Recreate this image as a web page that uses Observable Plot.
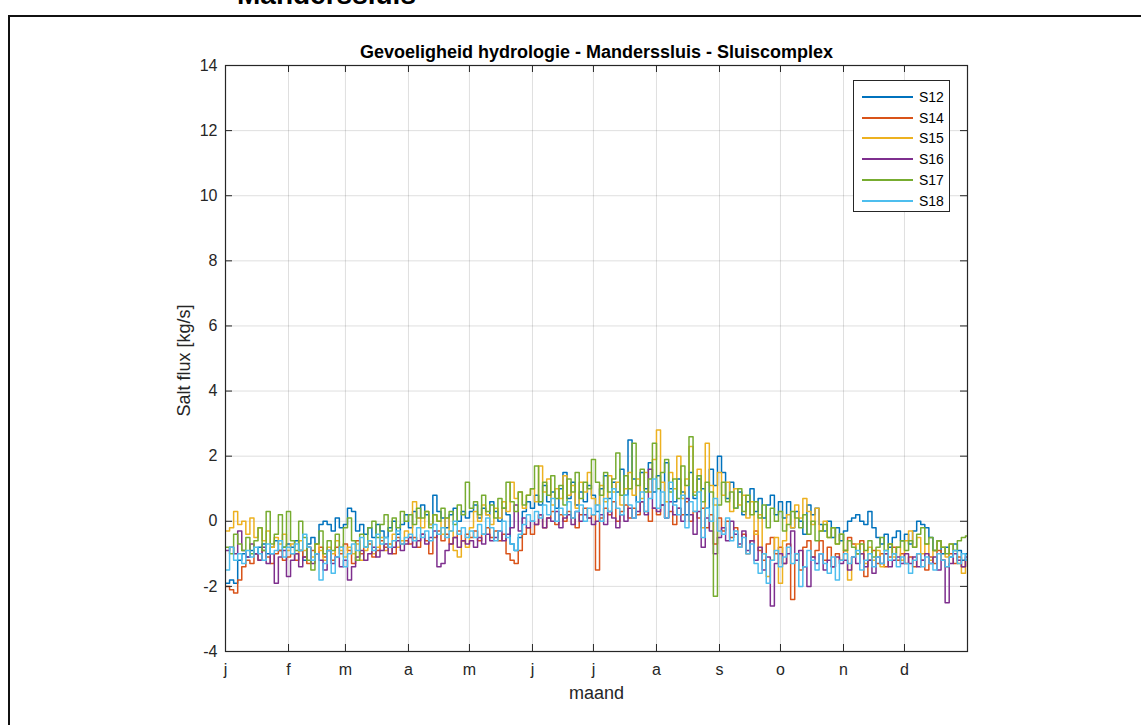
<!DOCTYPE html>
<html>
<head>
<meta charset="utf-8">
<script src="https://cdn.jsdelivr.net/npm/d3@7"></script>
<script src="https://cdn.jsdelivr.net/npm/@observablehq/plot@0.6"></script>
<style>
  html, body { margin: 0; padding: 0; background: #fff; }
  #page { position: relative; width: 1141px; height: 725px; overflow: hidden; background: #fff;
          font-family: "Liberation Sans", Arial, sans-serif; }
  #page svg { position: absolute; left: 0; top: 0; }
  #figframe { position: absolute; left: 8px; top: 15px; width: 1300px; height: 900px;
              border: 2px solid #111; box-sizing: border-box; pointer-events: none; }
  #heading { position: absolute; left: 237px; top: -21px; font-size: 28px; font-weight: bold;
             line-height: 32px; color: #000; white-space: nowrap; }
  #legend { position: absolute; left: 853px; top: 80px; width: 97px; height: 132px;
            border: 1px solid #262626; background: #fff; box-sizing: border-box; }
  #legend .row { position: absolute; left: 0; height: 20px; width: 100%; }
  #legend .swatch { position: absolute; left: 8px; top: 9px; width: 51px; height: 0;
                    border-top: 2px solid; }
  #legend .lab { position: absolute; left: 65px; top: 1px; font-size: 14px; line-height: 18px; color: #000; }
</style>
</head>
<body>
<div id="page">
  <div id="heading">Manderssluis</div>
  <div id="figframe"></div>
</div>
<script>
// Series names and MATLAB default line colours
const seriesNames = ["S12", "S14", "S15", "S16", "S17", "S18"];
const seriesColors = ["#0072BD", "#D95319", "#EDB120", "#7E2F8E", "#77AC30", "#4DBEEE"];

// Month starts (day of year) and their axis letters
const monthStarts = [0, 31, 59, 90, 120, 151, 181, 212, 243, 273, 304, 334];
const monthLabels = ["j", "f", "m", "a", "m", "j", "j", "a", "s", "o", "n", "d"];
const yTicks = [-4, -2, 0, 2, 4, 6, 8, 10, 12, 14];

// Salt flux [kg/s], one value every 2 days (Jan ... Dec)
const s12 = [
  -1.9,-1.8,-1.9,-1.2,-1.0,-1.1,-0.9,-1.0,-0.8,-0.7,-1.0,-0.8,-0.6,-0.9,-0.8,-0.7,
  -0.8,-0.6,-0.9,-1.2,-0.7,-0.5,-0.7,-0.1,0.0,-0.1,-0.3,0.1,-0.2,-0.1,
  0.4,0.3,-0.3,-0.1,-0.4,-0.2,-0.5,-0.1,-0.3,-0.5,-0.2,0.0,-0.4,-0.1,0.2,
  -0.2,0.3,0.1,0.5,0.2,-0.1,0.8,0.3,0.1,-0.2,0.2,0.4,0.0,0.3,0.1,
  0.3,0.5,0.1,0.4,0.2,0.6,0.3,0.0,0.4,0.2,-0.7,-0.9,-0.5,0.3,0.6,0.4,
  0.8,0.5,1.1,0.6,0.9,0.4,1.0,1.5,0.7,1.2,0.5,0.9,0.6,1.1,0.8,
  0.3,1.0,1.4,0.7,1.2,0.9,1.6,0.8,2.5,1.3,0.6,1.5,1.0,1.8,0.9,
  1.4,0.5,1.8,1.0,0.6,1.3,0.9,0.2,1.5,0.7,1.3,1.0,0.4,1.6,1.1,2.0,
  1.5,0.7,1.2,0.4,0.9,0.2,0.6,1.0,0.3,0.7,0.1,0.5,0.8,0.2,0.6,
  0.1,0.6,-0.2,0.3,0.0,-0.4,0.5,0.2,0.4,-0.1,-0.3,0.0,-0.5,-0.2,-0.6,
  -0.3,0.0,0.1,0.2,0.0,-0.1,0.3,-0.2,-0.5,-0.7,-0.4,-0.8,-0.5,-0.3,-0.6,
  -0.4,-0.7,-0.3,0.0,-0.1,-0.2,-0.5,-0.9,-0.6,-1.0,-0.8,-1.1,-0.7,-0.9,-1.2,-1.0
];
const s14 = [
  -2.0,-2.1,-2.2,-1.8,-1.4,-1.2,-1.3,-1.0,-1.2,-0.9,-1.1,-1.3,-1.0,-0.9,-1.2,-1.1,
  -1.0,-1.2,-0.9,-1.1,-1.3,-0.9,-1.0,-0.8,-1.1,-0.9,-1.2,-0.8,-1.0,-0.7,
  -0.9,-1.3,-0.6,-1.0,-0.8,-0.7,-1.1,-0.9,-0.6,-0.8,-0.7,-1.0,-0.5,-0.7,-0.6,
  -0.7,-0.5,-0.8,-0.4,-0.6,-1.0,-0.5,-0.3,-0.6,-0.4,-0.7,-0.5,-0.3,-0.6,-0.4,
  -0.5,-0.3,-0.6,-0.4,-0.2,-0.5,-0.3,-0.6,-0.4,-1.0,-1.2,-1.3,-0.9,-0.4,-0.2,-0.4,
  -0.1,0.2,-0.2,0.1,0.3,-0.1,0.2,0.0,0.3,0.1,-0.2,0.2,0.4,0.1,0.2,
  -1.5,0.1,0.4,0.2,0.6,0.0,0.3,0.5,0.1,0.4,0.2,0.6,0.3,0.0,0.4,
  0.2,0.5,0.1,0.3,-0.1,0.4,0.2,0.6,0.0,0.3,0.1,0.4,-0.2,0.2,-0.7,0.1,
  -0.3,0.0,-0.5,-0.2,-0.8,-0.4,-1.0,-0.6,-0.3,-0.9,-1.2,-0.7,-0.5,-1.0,-0.8,
  -1.3,-0.7,-2.4,-1.0,-1.5,-0.8,-0.6,-1.1,-0.9,-0.6,-1.2,-0.8,-1.4,-1.0,-1.2,
  -0.9,-0.5,-0.7,-1.0,-0.6,-1.7,-1.2,-0.9,-1.3,-1.0,-1.4,-1.1,-0.8,-1.2,-1.0,
  -1.3,-1.1,-1.4,-1.0,-1.2,-1.5,-1.1,-1.3,-0.9,-1.2,-1.4,-1.0,-1.3,-1.1,-1.4,-1.2
];
const s15 = [
  -0.3,-0.2,0.3,-0.1,0.0,-0.4,0.1,-0.5,-0.2,-0.6,-0.3,-0.8,-0.5,-0.7,-0.4,-0.9,
  -0.7,-1.0,-0.6,-0.9,-0.8,-1.1,-0.7,-0.9,-1.2,-0.8,-1.0,-0.6,-0.9,-1.1,
  -0.8,-1.0,-0.7,-1.2,-0.9,-0.6,-1.0,-0.8,-0.5,-0.9,-0.7,-0.4,-0.8,-0.6,-0.3,
  -0.5,0.6,0.1,-0.2,0.3,-0.1,0.2,0.0,-0.4,0.1,-0.3,-0.9,-1.1,-0.6,-0.8,
  -0.2,0.3,0.0,0.5,0.2,-0.1,0.4,0.1,0.6,0.3,1.2,0.7,0.9,0.4,0.8,1.0,
  0.6,1.7,0.9,1.3,0.5,1.0,0.7,1.4,0.8,1.1,0.4,1.2,0.9,1.5,0.7,
  0.5,1.1,0.6,1.4,0.9,1.2,0.5,1.0,1.5,0.8,1.3,0.7,1.5,0.9,1.9,
  2.8,1.2,0.6,1.5,1.0,2.0,0.7,1.3,2.3,0.9,1.6,-0.2,2.4,1.1,0.5,1.5,
  0.8,1.2,0.3,1.0,0.5,0.8,0.1,0.6,-0.4,0.2,-1.0,-1.7,-1.2,-0.5,-1.9,
  -0.6,0.2,-0.2,0.5,0.1,0.7,0.3,-0.1,0.4,-0.3,0.0,-0.5,-0.2,-0.7,-0.4,
  -0.9,-1.8,-1.1,-0.7,-1.0,-1.3,-0.8,-1.2,-0.9,-1.4,-1.0,-0.7,-1.1,-0.8,-1.2,
  -0.6,-0.3,-0.8,-0.5,-1.0,-0.7,-1.2,-0.9,-0.6,-0.8,-1.1,-0.7,-0.9,-1.3,-1.6,-1.2
];
const s16 = [
  -0.9,-0.8,-1.0,-0.3,-0.9,-1.1,-0.7,-1.0,-1.2,-0.8,-1.3,-1.0,-1.9,-1.1,-0.9,-1.7,
  -1.2,-1.0,-1.4,-1.1,-0.8,-1.3,-1.0,-1.2,-1.5,-0.9,-1.3,-1.1,-1.4,-1.2,
  -1.8,-1.4,-1.1,-0.9,-1.2,-1.0,-0.8,-1.1,-0.9,-0.7,-1.0,-0.8,-0.6,-0.9,-0.7,
  -0.5,-0.8,-0.6,-0.4,-0.7,-0.5,-0.3,-1.4,-1.3,-0.9,-0.7,-0.5,-0.8,-0.6,-0.7,
  -0.6,-0.8,-0.5,-0.7,-0.4,-0.6,-0.5,-0.3,-0.6,-0.4,-0.2,0.5,-0.3,0.1,-0.2,0.0,
  -0.1,0.2,-0.2,0.1,0.0,0.3,-0.2,0.1,0.2,-0.1,0.3,0.0,0.2,0.1,-0.1,
  0.0,0.2,-0.1,0.3,0.1,-0.2,0.2,0.0,0.4,0.1,0.3,0.6,0.2,1.6,0.4,
  0.3,0.5,0.1,0.6,0.2,0.4,0.0,0.7,0.2,-0.4,0.3,-0.8,0.1,-0.3,-1.0,-0.5,
  -0.2,-0.6,0.0,-0.4,-0.7,-0.3,-0.9,-0.6,-1.2,-0.8,-1.5,-1.1,-2.6,-1.3,-1.0,
  -1.3,-1.0,-0.3,-1.2,-0.9,-1.4,-2.0,-1.1,-1.3,-1.0,-1.5,-1.2,-1.4,-1.1,-1.3,
  -1.2,-1.5,-1.1,-1.3,-1.0,-1.4,-1.2,-1.6,-1.1,-1.3,-1.0,-1.4,-1.2,-1.1,-1.3,
  -1.0,-1.3,-1.1,-1.4,-1.2,-1.0,-1.3,-1.1,-1.5,-1.2,-2.5,-1.3,-1.0,-1.2,-1.4,-1.1
];
const s17 = [
  -0.8,-1.0,-0.4,-0.7,-0.9,-0.5,-1.0,-0.6,-0.2,-0.9,0.3,-0.7,-0.4,0.2,-0.8,0.3,
  -0.6,-0.9,0.0,-0.5,-1.2,-1.5,-0.7,-0.3,-1.0,-0.6,-0.9,-0.4,-0.8,-0.2,
  0.1,-0.6,-1.2,-0.4,-0.8,-0.2,0.0,-0.5,-0.1,0.2,-0.3,0.1,-0.2,0.3,0.0,
  0.2,-0.1,0.4,0.1,0.3,-0.2,0.2,0.0,0.4,0.1,0.3,-0.1,0.5,0.2,1.2,
  0.4,0.6,0.2,0.8,0.3,0.5,0.1,0.7,0.4,1.2,0.6,0.3,0.9,0.5,0.8,1.0,
  1.7,0.6,1.2,0.8,1.4,0.7,1.1,0.5,1.3,0.9,1.5,0.7,1.2,1.0,1.9,
  1.2,0.8,1.5,0.9,1.3,2.1,0.8,1.4,1.0,2.4,1.1,1.6,0.9,1.3,2.4,
  1.0,1.5,1.9,0.9,1.3,0.7,1.7,1.1,2.6,0.8,1.4,0.6,1.2,0.9,-2.3,0.5,
  1.2,0.6,0.9,0.4,1.0,0.3,0.8,0.2,0.6,0.1,0.5,-0.2,0.4,0.0,0.3,
  -0.3,-0.1,0.3,0.1,-0.2,0.2,-0.4,0.0,-0.6,-0.3,-0.1,-0.5,-0.2,-0.7,-0.4,
  -0.9,-0.6,-0.8,-1.0,-0.7,-0.9,-0.6,-1.1,-0.8,-0.5,-0.9,-0.7,-1.0,-0.8,-0.6,
  -0.9,-0.6,-0.8,-0.4,-0.2,-0.7,-0.5,-0.9,-0.6,-0.8,-1.0,-0.7,-0.9,-0.6,-0.5,-0.45
];
const s18 = [
  -1.5,-0.8,-1.2,-1.0,-1.3,-0.9,-1.1,-0.8,-1.0,-1.2,-0.7,-1.0,-0.9,-0.6,-1.1,-0.8,
  -1.0,-0.7,-0.9,-0.4,-0.8,-1.2,-1.0,-1.8,-1.3,-0.9,-1.6,-1.1,-0.8,-1.4,
  -1.0,-0.7,-0.9,-0.5,-0.8,-0.6,-0.9,-0.4,-0.7,-0.5,-0.8,-0.6,-0.3,-0.7,-0.5,
  -0.4,-0.6,-0.2,-0.5,-0.3,-0.6,-0.1,-0.4,-0.2,-0.5,-0.3,0.0,-0.4,-0.2,-0.5,
  -0.3,-0.5,-0.1,-0.4,0.1,-0.2,-0.6,-0.3,0.0,-0.5,-0.7,-0.9,-0.4,-0.1,0.2,0.0,
  0.3,0.1,0.5,0.2,0.7,0.0,0.4,0.2,0.6,0.1,0.3,0.5,0.0,0.4,0.2,
  0.5,0.0,0.7,0.3,1.0,0.4,0.2,0.8,0.5,0.1,0.6,0.9,0.3,0.7,1.3,
  0.4,0.9,0.1,1.2,0.5,0.2,0.8,-0.2,0.6,0.3,0.9,-0.5,0.4,0.0,0.7,-0.3,
  -0.4,0.1,-0.6,-0.3,-0.8,-0.5,-1.0,-0.7,-1.3,-1.6,-1.0,-1.9,-1.2,-0.9,-1.4,
  -1.1,-0.8,-1.3,-1.0,-2.0,-1.4,-0.9,-1.2,-1.5,-1.0,-1.3,-1.6,-1.1,-1.8,-1.2,
  -1.0,-1.3,-1.1,-0.9,-1.5,-1.2,-1.0,-1.4,-1.1,-1.3,-0.9,-1.2,-1.0,-1.4,-1.1,
  -1.3,-1.6,-1.2,-1.0,-1.4,-1.1,-1.3,-1.5,-1.0,-1.2,-1.4,-1.1,-0.9,-1.3,-1.0,-1.2
];

const seriesValues = [s12, s14, s15, s16, s17, s18];
const dayStep = 2;
const yearEnd = 365;

// Long-format rows; the last value is held until the end of the year
const rows = seriesNames.flatMap((name, k) => {
  const vals = seriesValues[k];
  const pts = vals.map((v, i) => ({series: name, day: i * dayStep, value: v}));
  pts.push({series: name, day: yearEnd, value: vals[vals.length - 1]});
  return pts;
});

const W = 1141, H = 725;
const mL = 225, mR = 174, mT = 65, mB = 74;
const plotW = W - mL - mR, plotH = H - mT - mB;
const tickLen = 7;
const axisColor = "#262626";

const chart = Plot.plot({
  width: W,
  height: H,
  marginLeft: mL,
  marginRight: mR,
  marginTop: mT,
  marginBottom: mB,
  style: {fontFamily: "Liberation Sans, Arial, sans-serif", fontSize: "16px", color: axisColor, background: "transparent"},
  x: {domain: [0, yearEnd]},
  y: {domain: [-4, 14]},
  color: {domain: seriesNames, range: seriesColors},
  marks: [
    Plot.gridX(monthStarts, {stroke: axisColor, strokeOpacity: 0.15, strokeWidth: 1}),
    Plot.gridY(yTicks, {stroke: axisColor, strokeOpacity: 0.15, strokeWidth: 1}),
    Plot.line(rows, {x: "day", y: "value", z: "series", stroke: "series", curve: "step-after", strokeWidth: 1.5, clip: true}),
    // inward tick marks on all four sides of the box
    Plot.tickY(yTicks, {y: d => d, stroke: axisColor, insetRight: plotW - tickLen}),
    Plot.tickY(yTicks, {y: d => d, stroke: axisColor, insetLeft: plotW - tickLen}),
    Plot.tickX(monthStarts, {x: d => d, stroke: axisColor, insetTop: plotH - tickLen}),
    Plot.tickX(monthStarts, {x: d => d, stroke: axisColor, insetBottom: plotH - tickLen}),
    Plot.frame({stroke: axisColor, strokeWidth: 1.2}),
    Plot.axisY(yTicks, {tickSize: 0, tickPadding: 8, label: null, fontSize: 16, tickFormat: d => String(d)}),
    Plot.axisX(monthStarts, {tickSize: 0, tickPadding: 12, label: null, fontSize: 16,
      tickFormat: d => monthLabels[monthStarts.indexOf(d)]}),
    Plot.text(["Gevoeligheid hydrologie - Manderssluis - Sluiscomplex"], {
      frameAnchor: "top", dy: -8, lineAnchor: "bottom", fontWeight: "bold", fontSize: 18, fill: "#000"}),
    Plot.text(["maand"], {frameAnchor: "bottom", dy: 42, lineAnchor: "middle", fontSize: 18, fill: axisColor}),
    Plot.text(["Salt flux [kg/s]"], {frameAnchor: "left", dx: -41, dy: 2, rotate: -90, textAnchor: "middle",
      lineAnchor: "middle", fontSize: 18, fill: axisColor})
  ]
});

const page = document.getElementById("page");
page.insertBefore(chart, page.firstChild);

// Legend box
const legend = document.createElement("div");
legend.id = "legend";
seriesNames.forEach((name, k) => {
  const row = document.createElement("div");
  row.className = "row";
  row.style.top = (6 + k * 20.7) + "px";
  const sw = document.createElement("div");
  sw.className = "swatch";
  sw.style.borderTopColor = seriesColors[k];
  const lab = document.createElement("div");
  lab.className = "lab";
  lab.textContent = name;
  row.appendChild(sw);
  row.appendChild(lab);
  legend.appendChild(row);
});
page.appendChild(legend);
</script>
</body>
</html>
